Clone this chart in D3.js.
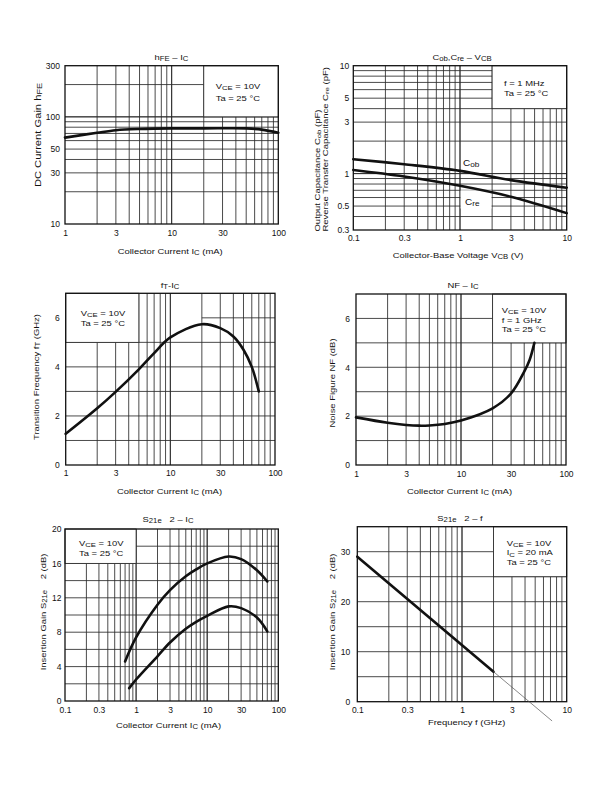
<!DOCTYPE html>
<html><head><meta charset="utf-8">
<script src="https://cdn.jsdelivr.net/npm/d3@7"></script>
<style>
body{margin:0;background:#fff}
svg{display:block}
text{font-family:"Liberation Sans",Arial,Helvetica,sans-serif;fill:#111}
</style>
</head><body>
<svg id="chart" width="612" height="792"></svg>
<script>
// ---------------- data ----------------
const hfeCurrent = [1, 2, 3, 5, 10, 20, 50, 70, 100];
const hfeGain    = [64, 71, 75, 77, 78, 78, 78, 76, 71];

const capVoltage = [0.1, 0.3, 1, 3, 10];
const cobValues  = [1.36, 1.22, 1.06, 0.87, 0.74];
const creValues  = [1.08, 0.94, 0.77, 0.61, 0.43];

const ftCurrent = [1, 2, 3, 5, 7, 10, 20, 30, 40, 50, 60, 70];
const ftValues  = [1.27, 2.31, 2.98, 3.9, 4.56, 5.2, 5.74, 5.58, 5.24, 4.7, 4.0, 3.0];

const nfCurrent = [1, 2, 3, 4, 5, 7, 10, 20, 30, 40, 45, 50];
const nfValues  = [1.95, 1.73, 1.64, 1.61, 1.62, 1.68, 1.82, 2.32, 2.93, 3.82, 4.3, 5.0];

const s21UpperCurrent = [0.7, 1, 2, 3, 5, 7, 10, 20, 30, 50, 70];
const s21UpperGain    = [4.6, 7.4, 11.2, 12.9, 14.5, 15.3, 16.0, 16.8, 16.5, 15.2, 13.9];
const s21LowerCurrent = [0.8, 1, 2, 3, 5, 7, 10, 20, 30, 50, 70];
const s21LowerGain    = [1.5, 2.5, 5.2, 6.8, 8.4, 9.2, 9.9, 11.0, 10.8, 9.7, 8.1];

const s21Freq       = [0.1, 2];
const s21FreqGain   = [29, 6];
const s21ExtFreq    = [2, 7.2];
const s21ExtGain    = [6, -3.8];

// tick labels
const icTicks    = [1, 3, 10, 30, 100];
const hfeTicks   = [10, 30, 50, 100, 300];
const vcbTicks   = [0.1, 0.3, 1, 3, 10];
const capTicks   = [0.3, 0.5, 1, 3, 5, 10];
const ftTicks    = [0, 2, 4, 6];
const nfTicks    = [0, 2, 4, 6];
const ic2Ticks   = [0.1, 0.3, 1, 3, 10, 30, 100];
const s21Ticks   = [0, 4, 8, 12, 16, 20];
const freqTicks  = [0.1, 0.3, 1, 3, 10];
const s21fTicks  = [0, 10, 20, 30];

// ---------------- helpers ----------------
const svg = d3.select('#chart');
svg.append('rect').attr('width', 612).attr('height', 792).attr('fill', '#fff');

const FS = 8, SX = 1.18;
const LEG = { anchor: 'start', fs: 7.6, sx: 1.24 };

function rich(t, parts, fs) {
  let cur = 0;
  parts.forEach(([s, m]) => {
    const target = m === 'sub' ? fs * 0.16 : m === 'sup' ? -fs * 0.35 : 0;
    const ts = t.append('tspan').text(s).attr('dy', target - cur);
    if (m) ts.attr('font-size', fs * 0.82);
    cur = target;
  });
}
function label(x, y, parts, opt = {}) {
  const fs = opt.fs || FS, sx = opt.sx || SX, rot = opt.rot || 0;
  const g = svg.append('g').attr('transform', `translate(${x},${y}) rotate(${rot}) scale(${sx},1)`);
  const t = g.append('text').attr('font-size', fs).attr('text-anchor', opt.anchor || 'middle')
    .style('white-space', 'pre');
  rich(t, parts, fs);
  return t;
}
function logGrid(a, b) {
  const out = [];
  for (let e = Math.floor(Math.log10(a) + 1e-9); e < Math.ceil(Math.log10(b) - 1e-9); e++)
    for (let m = 1; m <= 10; m++) {
      const v = +(m * Math.pow(10, e)).toPrecision(6);
      if (v > a * 1.0001 && v < b * 0.9999) out.push(v);
    }
  return out;
}
function linGrid(a, b, s) { return d3.range(a + s, b - s / 2, s); }

function panel(o) {
  const x = (o.xLog ? d3.scaleLog() : d3.scaleLinear()).domain(o.xDom).range([o.l, o.r]);
  const y = (o.yLog ? d3.scaleLog() : d3.scaleLinear()).domain(o.yDom).range([o.b, o.t]);
  const g = svg.append('g');
  const xg = o.xLog ? logGrid(...o.xDom) : linGrid(o.xDom[0], o.xDom[1], o.xStep);
  const yg = o.yLog ? logGrid(...o.yDom) : linGrid(o.yDom[0], o.yDom[1], o.yStep);
  const gs = '#2a2a2a', gw = 0.85;
  xg.forEach(v => g.append('line').attr('x1', x(v)).attr('x2', x(v)).attr('y1', o.t).attr('y2', o.b)
    .attr('stroke', gs).attr('stroke-width', gw));
  yg.forEach(v => {
    const span = (o.hPartial && o.hPartial[v]) || o.xDom;
    g.append('line').attr('x1', x(span[0])).attr('x2', x(span[1])).attr('y1', y(v)).attr('y2', y(v))
      .attr('stroke', gs).attr('stroke-width', gw);
  });
  (o.boxes || []).forEach(bx => {
    const r = g.append('rect').attr('x', x(bx[0][0]) + (bx[2] ? 0.6 : 0)).attr('y', y(bx[1][1]))
      .attr('width', x(bx[0][1]) - x(bx[0][0]) - (bx[2] ? 1.2 : 0))
      .attr('height', y(bx[1][0]) - y(bx[1][1])).attr('fill', '#fff');
    if (!bx[2]) r.attr('stroke', gs).attr('stroke-width', gw);
  });
  g.append('rect').attr('x', o.l).attr('y', o.t).attr('width', o.r - o.l).attr('height', o.b - o.t)
    .attr('fill', 'none').attr('stroke', '#111').attr('stroke-width', 1.3);

  // axes (labels only)
  const ax = g.append('g').attr('transform', `translate(0,${o.b})`)
    .call(d3.axisBottom(x).tickValues(o.xTicks).tickSize(0).tickPadding(o.xPad).tickFormat(d => String(d)));
  const ay = g.append('g').attr('transform', `translate(${o.l},0)`)
    .call(d3.axisLeft(y).tickValues(o.yTicks).tickSize(0).tickPadding(o.yPad).tickFormat(d => String(d)));
  [ax, ay].forEach(a => {
    a.select('.domain').remove();
    a.attr('font-family', null).attr('font-size', null);
    a.selectAll('text').attr('font-size', 8.5).attr('fill', '#111');
  });

  const line = d3.line().x(d => x(d[0])).y(d => y(d[1])).curve(d3.curveCatmullRom.alpha(0.5));
  (o.series || []).forEach(s => {
    g.append('path').attr('d', line(d3.zip(s.x, s.y))).attr('fill', 'none')
      .attr('stroke', s.color || '#111').attr('stroke-width', s.w || 2.6)
      .attr('stroke-linecap', 'round').attr('stroke-linejoin', 'round');
  });
  return { x, y };
}

// ---------------- panel 1: hFE - IC ----------------
panel({
  l: 65, r: 278.3, t: 65.7, b: 224,
  xLog: true, xDom: [1, 100], yLog: true, yDom: [10, 300],
  xTicks: icTicks, yTicks: hfeTicks, xPad: 6, yPad: 5,
  boxes: [[[20, 100], [100, 300]]],
  series: [{ x: hfeCurrent, y: hfeGain }]
});
label(171.5, 59.5, [['h'], ['FE', 'sub'], [' – I'], ['C', 'sub']]);
label(215.7, 88.5, [['V'], ['CE', 'sub'], [' = 10V']], LEG);
label(215.7, 100.5, [['Ta = 25 °C']], LEG);
label(40.5, 135, [['DC Current Gain h'], ['FE', 'sub']], { rot: -90, fs: 8.6, sx: 1.3 });
label(170.2, 254, [['Collector Current I'], ['C', 'sub'], [' (mA)']]);

// ---------------- panel 2: Cob, Cre - VCB ----------------
panel({
  l: 353.3, r: 566.7, t: 65.7, b: 230,
  xLog: true, xDom: [0.1, 10], yLog: true, yDom: [0.3, 10],
  xTicks: vcbTicks, yTicks: capTicks, xPad: 5, yPad: 4,
  boxes: [[[2, 10], [4, 10]], [[1, 2], [0.475, 0.7], true]],
  series: [{ x: capVoltage, y: cobValues }, { x: capVoltage, y: creValues }]
});
label(462, 59.5, [['C'], ['ob', 'sub'], [',C'], ['re', 'sub'], [' – V'], ['CB', 'sub']]);
label(504, 86, [['f = 1 MHz']], LEG);
label(504, 96, [['Ta = 25 °C']], LEG);
label(463, 166, [['C'], ['ob', 'sub']], { anchor: 'start', fs: 8.5 });
label(465, 204.5, [['C'], ['re', 'sub']], { anchor: 'start', fs: 8.5 });
label(320, 231.5, [['Output Capacitance C'], ['ob', 'sub'], [' (pF)']], { rot: -90, anchor: 'start', fs: 7.3, sx: 1.3 });
label(327.5, 231.5, [['Reverse Transfer Capacitance C'], ['re', 'sub'], [' (pF)']], { rot: -90, anchor: 'start', fs: 7.3, sx: 1.3 });
label(458, 257.5, [['Collector-Base Voltage V'], ['CB', 'sub'], [' (V)']]);

// ---------------- panel 3: fT - IC ----------------
panel({
  l: 65.7, r: 275, t: 293.3, b: 465,
  xLog: true, xDom: [1, 100], yDom: [0, 7], yStep: 1,
  xTicks: icTicks, yTicks: ftTicks, xPad: 5, yPad: 6,
  hPartial: { 6: [20, 100] },
  boxes: [[[1, 5], [5, 7]]],
  series: [{ x: ftCurrent, y: ftValues }]
});
label(170, 288, [['f'], ['T', 'sub'], ['-I'], ['C', 'sub']]);
label(80.7, 315.5, [['V'], ['CE', 'sub'], [' = 10V']], LEG);
label(80.7, 325.5, [['Ta = 25 °C']], LEG);
label(38.5, 377, [['Transition Frequency f'], ['T', 'sub'], [' (GHz)']], { rot: -90 });
label(169.5, 493.5, [['Collector Current I'], ['C', 'sub'], [' (mA)']]);

// ---------------- panel 4: NF - IC ----------------
panel({
  l: 356, r: 566, t: 294, b: 465,
  xLog: true, xDom: [1, 100], yDom: [0, 7], yStep: 1,
  xTicks: icTicks, yTicks: nfTicks, xPad: 6, yPad: 6,
  boxes: [[[20, 100], [5, 7]]],
  series: [{ x: nfCurrent, y: nfValues }]
});
label(463, 288, [['NF – I'], ['C', 'sub']]);
label(501.7, 313, [['V'], ['CE', 'sub'], [' = 10V']], LEG);
label(501.7, 322.8, [['f = 1 GHz']], LEG);
label(501.7, 331.5, [['Ta = 25 °C']], LEG);
label(334.5, 383, [['Noise Figure NF (dB)']], { rot: -90 });
label(459.5, 493.5, [['Collector Current I'], ['C', 'sub'], [' (mA)']]);

// ---------------- panel 5: S21e^2 - IC ----------------
panel({
  l: 65, r: 278.3, t: 529, b: 701,
  xLog: true, xDom: [0.1, 100], yDom: [0, 20], yStep: 2,
  xTicks: ic2Ticks, yTicks: s21Ticks, xPad: 6, yPad: 3.5,
  boxes: [[[0.1, 1], [16, 20]]],
  series: [{ x: s21UpperCurrent, y: s21UpperGain }, { x: s21LowerCurrent, y: s21LowerGain }]
});
label(168, 522, [['S'], ['21e', 'sub'], ['   2 – I'], ['C', 'sub']]);
label(79, 545.5, [['V'], ['CE', 'sub'], [' = 10V']], LEG);
label(79, 555.5, [['Ta = 25 °C']], LEG);
label(46, 612, [['Insertion Gain S'], ['21e', 'sub'], ['    2 (dB)']], { rot: -90 });
label(168.5, 728, [['Collector Current I'], ['C', 'sub'], [' (mA)']]);

// ---------------- panel 6: S21e^2 - f ----------------
panel({
  l: 357.3, r: 566.7, t: 526.7, b: 701.7,
  xLog: true, xDom: [0.1, 10], yDom: [0, 35], yStep: 5,
  xTicks: freqTicks, yTicks: s21fTicks, xPad: 5.3, yPad: 7,
  boxes: [[[2, 10], [25, 35]]],
  series: [{ x: s21Freq, y: s21FreqGain }, { x: s21ExtFreq, y: s21ExtGain, w: 0.7, color: '#555' }]
});
label(460, 521, [['S'], ['21e', 'sub'], ['   2 – f']]);
label(506.7, 545.5, [['V'], ['CE', 'sub'], [' = 10V']], LEG);
label(506.7, 555.3, [['I'], ['C', 'sub'], [' = 20 mA']], LEG);
label(506.7, 564.8, [['Ta = 25 °C']], LEG);
label(335, 612, [['Insertion Gain S'], ['21e', 'sub'], ['    2 (dB)']], { rot: -90 });
label(466.7, 725, [['Frequency f (GHz)']]);
</script>
</body></html>
